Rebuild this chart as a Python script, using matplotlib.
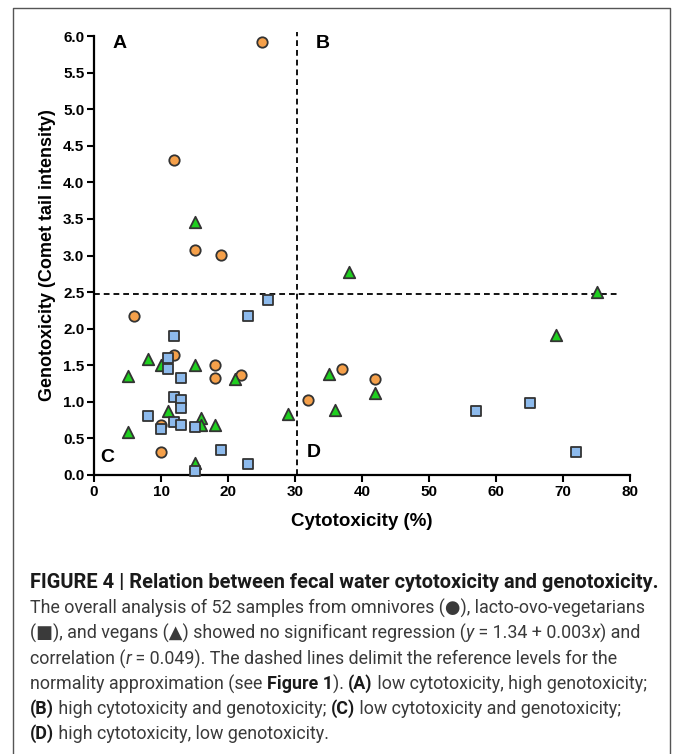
import matplotlib

matplotlib.use("Agg")

import matplotlib.pyplot as plt  # noqa: E402
from matplotlib.lines import Line2D  # noqa: E402

# omnivores (circles)
omni_x = [25, 12, 15, 19, 6, 12, 18, 18, 22, 10, 10, 32, 37, 42]
omni_y = [5.92, 4.30, 3.07, 3.01, 2.17, 1.64, 1.51, 1.33, 1.37, 0.68, 0.31, 1.03, 1.45, 1.31]

# lacto-ovo-vegetarians (squares)
lacto_x = [26, 23, 12, 11, 11, 13, 12, 13, 13, 8, 12, 13, 10, 15, 19, 23, 15, 57, 65, 72]
lacto_y = [2.39, 2.17, 1.90, 1.60, 1.45, 1.32, 1.06, 1.03, 0.91, 0.81, 0.72, 0.68, 0.63,
           0.65, 0.34, 0.15, 0.06, 0.87, 0.98, 0.32]

# vegans (triangles)
vegan_x = [15, 38, 75, 69, 8, 10, 15, 5, 21, 35, 42, 11, 16, 16, 18, 36, 29, 5, 15]
vegan_y = [3.46, 2.78, 2.50, 1.91, 1.59, 1.51, 1.51, 1.35, 1.31, 1.38, 1.12, 0.88, 0.78,
           0.68, 0.69, 0.89, 0.84, 0.59, 0.17]

cyto_cut = 30.3
geno_cut = 2.48

x_ticks = list(range(0, 81, 10))
y_ticks = [i * 0.5 for i in range(13)]

quadrants = [("A", 2.8, 5.9), ("B", 33.1, 5.9), ("C", 1.0, 0.24), ("D", 31.8, 0.31)]

caption = [
    [("FIGURE 4 | Relation between fecal water cytotoxicity and genotoxicity.", "t")],
    [("The overall analysis of 52 samples from omnivores (\u25cf), lacto-ovo-vegetarians", "n")],
    [("(\u25a0), and vegans (\u25b2) showed no significant regression (", "n"), ("y", "i"),
     (" = 1.34 + 0.003", "n"), ("x", "i"), (") and", "n")],
    [("correlation (", "n"), ("r", "i"),
     (" = 0.049). The dashed lines delimit the reference levels for the", "n")],
    [("normality approximation (see ", "n"), ("Figure 1", "b"), ("). ", "n"), ("(A)", "b"),
     (" low cytotoxicity, high genotoxicity;", "n")],
    [("(B)", "b"), (" high cytotoxicity and genotoxicity; ", "n"), ("(C)", "b"),
     (" low cytotoxicity and genotoxicity;", "n")],
    [("(D)", "b"), (" high cytotoxicity, low genotoxicity.", "n")],
]

W, H = 673, 754
fig = plt.figure(figsize=(W / 100, H / 100), dpi=100)
plt.rcParams["font.family"] = ["Liberation Sans", "DejaVu Sans"]

ax = fig.add_axes([94 / W, 1 - 475 / H, 536 / W, 439 / H])
edge = "#333333"
ax.scatter(omni_x, omni_y, s=56, marker="o", c="#F5A04A", edgecolors=edge,
           linewidths=1.3, zorder=3, clip_on=False)
ax.scatter(vegan_x, vegan_y, s=68, marker="^", c="#1FCF1F", edgecolors=edge,
           linewidths=1.3, zorder=4, clip_on=False)
ax.scatter(lacto_x, lacto_y, s=62, marker="s", c="#8DBAEC", edgecolors=edge,
           linewidths=1.3, zorder=5, clip_on=False)

ax.plot([0, 78.5], [geno_cut, geno_cut], color="k", lw=1.3, ls=(0, (3.2, 2.2)),
        zorder=2, clip_on=False)
ax.plot([cyto_cut, cyto_cut], [0, 6.05], color="k", lw=1.3, ls=(0, (3.2, 2.2)),
        zorder=2, clip_on=False)

for lab, x, y in quadrants:
    ax.text(x, y, lab, fontsize=14, fontweight="bold", ha="left", va="center")

ax.set_xlim(0, 80)
ax.set_ylim(0, 6.0)
ax.set_xticks(x_ticks)
ax.set_yticks(y_ticks)
ax.set_yticklabels([f"{v:.1f}" for v in y_ticks])
for side in ("top", "right"):
    ax.spines[side].set_visible(False)
for side in ("left", "bottom"):
    ax.spines[side].set_linewidth(1.6)
ax.tick_params(direction="out", length=5, width=1.5, labelsize=11, pad=2)
for lbl in ax.get_xticklabels() + ax.get_yticklabels():
    lbl.set_fontweight("bold")
ax.set_xlabel("Cytotoxicity (%)", fontsize=13.5, fontweight="bold", labelpad=10)
ax.set_ylabel("Genotoxicity (Comet tail intensity)", fontsize=13, fontweight="bold",
              labelpad=5)

# outer frame (open at the bottom)
fx0, fx1, fy1 = 13 / W, 670 / W, 1 - 8 / H
fig.add_artist(Line2D([fx0, fx0, fx1, fx1], [-0.01, fy1, fy1, -0.01],
                      transform=fig.transFigure, color="#555555", lw=1.0))

# caption, drawn segment by segment
renderer = fig.canvas.get_renderer()
cap_fam = ["Roboto", "DejaVu Sans"]
cap_size = 12.9


def seg_width(text, **kw):
    a = fig.text(0, 0, "|" + text + "|", **kw)
    b = fig.text(0, 0, "||", **kw)
    w = a.get_window_extent(renderer).width - b.get_window_extent(renderer).width
    a.remove()
    b.remove()
    return w


line_y = [583, 608, 633, 659, 684, 709, 734]
for segs, yp in zip(caption, line_y):
    xp = 30.0
    for text, style in segs:
        kw = dict(fontsize=cap_size, family=cap_fam, color="#3a3a3a")
        if style == "t":
            kw.update(fontsize=14.4, fontweight="bold", color="#1a1a1a")
        elif style == "b":
            kw.update(fontweight="bold", color="#1a1a1a")
        elif style == "i":
            kw.update(fontstyle="italic")
        fig.text(xp / W, 1 - yp / H, text, ha="left", va="center", **kw)
        xp += seg_width(text, **kw)

fig.savefig("out.png", dpi=100)
